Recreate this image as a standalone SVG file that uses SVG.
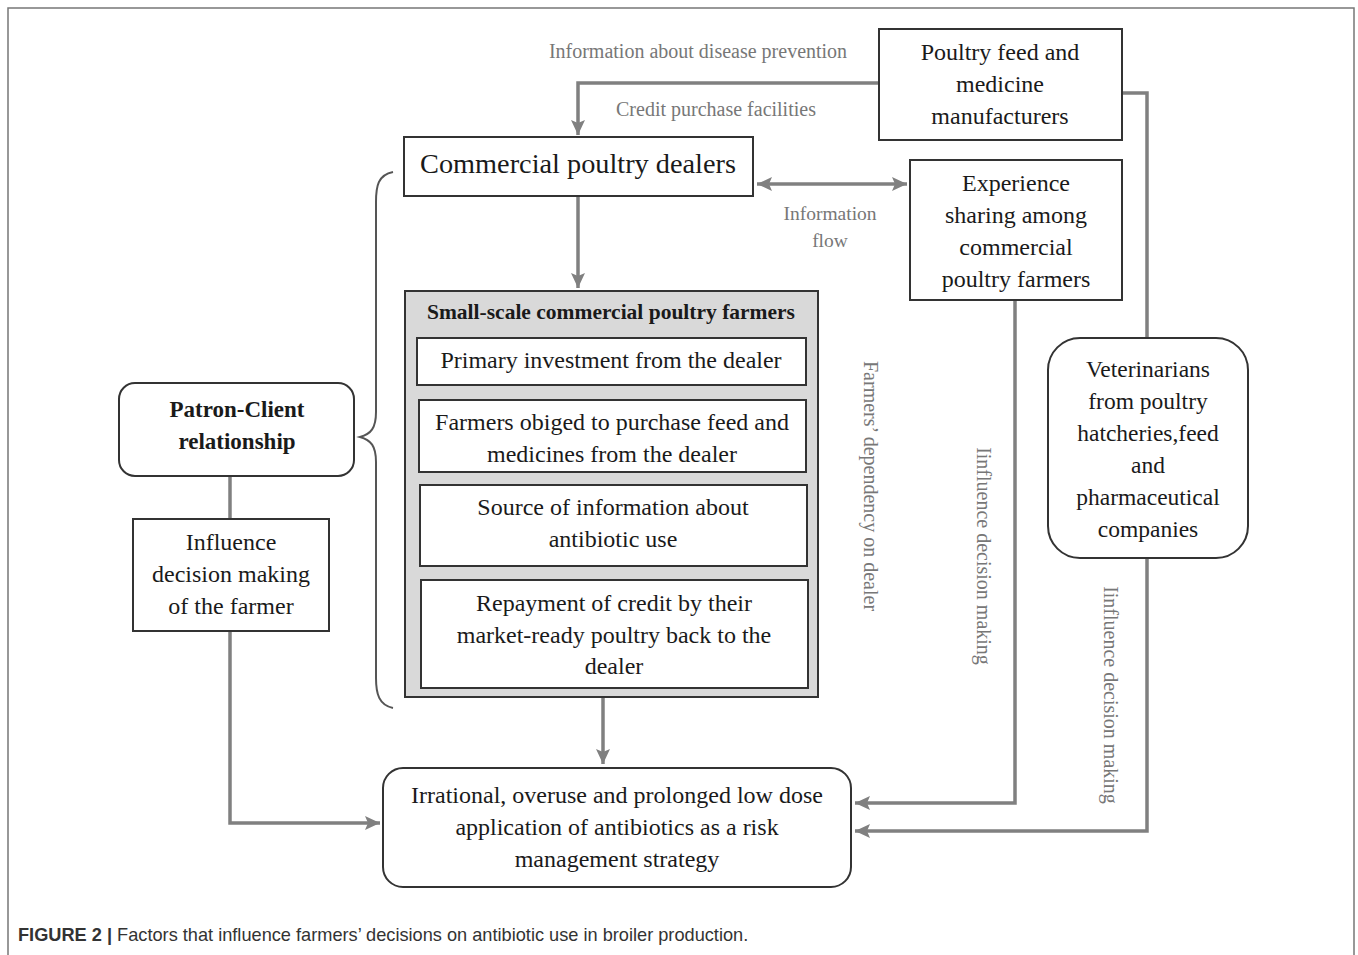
<svg xmlns="http://www.w3.org/2000/svg" width="1358" height="955" viewBox="0 0 1358 955">
<style>
  .box{fill:#fff;stroke:#333;stroke-width:2}
  .gray{fill:#d9d9d9;stroke:#333;stroke-width:2}
  .t{font-family:"Liberation Serif","Times New Roman",serif;fill:#1a1a1a;text-anchor:middle}
  .lab{font-family:"Liberation Serif","Times New Roman",serif;fill:#777;text-anchor:middle}
  .con{fill:none;stroke:#808080;stroke-width:3.5}
</style>
<defs>
  <marker id="ah" markerUnits="userSpaceOnUse" markerWidth="16" markerHeight="14" refX="15" refY="7" orient="auto-start-reverse">
    <path d="M0,0 L15,7 L0,14 L3,7 Z" fill="#808080"/>
  </marker>
</defs>
<rect x="0" y="0" width="1358" height="955" fill="#fff"/>
<path d="M8,960 V8 H1354 V960" fill="none" stroke="#777" stroke-width="1.5"/>

<g id="connectors">
  <path class="con" d="M879,83 H578 V135" marker-end="url(#ah)"/>
  <path class="con" d="M578,197 V288" marker-end="url(#ah)"/>
  <path class="con" d="M757,184 H907" marker-start="url(#ah)" marker-end="url(#ah)"/>
  <path class="con" d="M603,698 V764" marker-end="url(#ah)"/>
  <path class="con" d="M230,477 V519"/>
  <path class="con" d="M230,632 V823 H380" marker-end="url(#ah)"/>
  <path class="con" d="M1015,301 V803 H855" marker-end="url(#ah)"/>
  <path class="con" d="M1123,93 H1147 V338"/>
  <path class="con" d="M1147,558 V831 H855" marker-end="url(#ah)"/>
  <path d="M393,172 C378,175 376,186 376,202 L376,412 C376,428 371,434 360,437 C371,440 376,446 376,462 L376,678 C376,694 379,705 393,708" fill="none" stroke="#555" stroke-width="2"/>
</g>

<g id="labels">
  <text class="lab" x="698" y="58" font-size="20">Information about disease prevention</text>
  <text class="lab" x="716" y="116" font-size="20">Credit purchase facilities</text>
  <text class="lab" x="830" y="220" font-size="19.5">Information</text>
  <text class="lab" x="830" y="247" font-size="19.5">flow</text>
  <text class="lab" font-size="20" transform="translate(864,486) rotate(90)">Farmers’ dependency on dealer</text>
  <text class="lab" font-size="20" transform="translate(977,556) rotate(90)">Iinfluence decision making</text>
  <text class="lab" font-size="20" transform="translate(1104,695) rotate(90)">Iinfluence decision making</text>
</g>

<g id="feed">
  <rect class="box" x="879" y="29" width="243" height="111"/>
  <text class="t" font-size="24"><tspan x="1000" y="60">Poultry feed and</tspan><tspan x="1000" y="92">medicine</tspan><tspan x="1000" y="124">manufacturers</tspan></text>
</g>

<g id="dealers">
  <rect class="box" x="404" y="137" width="349" height="59"/>
  <text class="t" x="578" y="173" font-size="28.3">Commercial poultry dealers</text>
</g>

<g id="experience">
  <rect class="box" x="910" y="160" width="212" height="140"/>
  <text class="t" font-size="24"><tspan x="1016" y="191">Experience</tspan><tspan x="1016" y="223">sharing among</tspan><tspan x="1016" y="255">commercial</tspan><tspan x="1016" y="287">poultry farmers</tspan></text>
</g>

<g id="farmers">
  <rect class="gray" x="405" y="291" width="413" height="406"/>
  <text class="t" x="611" y="319" font-size="21.5" font-weight="bold">Small-scale commercial poultry farmers</text>
</g>
<g id="f1">
  <rect class="box" x="417" y="338" width="389" height="47"/>
  <text class="t" x="611" y="368" font-size="24">Primary investment from the dealer</text>
</g>
<g id="f2">
  <rect class="box" x="419" y="400" width="387" height="72"/>
  <text class="t" font-size="24"><tspan x="612" y="430">Farmers obiged to purchase feed and</tspan><tspan x="612" y="462">medicines from the dealer</tspan></text>
</g>
<g id="f3">
  <rect class="box" x="420" y="485" width="387" height="81"/>
  <text class="t" font-size="24"><tspan x="613" y="515">Source of information about</tspan><tspan x="613" y="547">antibiotic use</tspan></text>
</g>
<g id="f4">
  <rect class="box" x="421" y="580" width="387" height="108"/>
  <text class="t" font-size="24"><tspan x="614" y="611">Repayment of credit by their</tspan><tspan x="614" y="643">market-ready poultry back to the</tspan><tspan x="614" y="674">dealer</tspan></text>
</g>

<g id="patron">
  <rect class="box" x="119" y="383" width="235" height="93" rx="16"/>
  <text class="t" font-size="23" font-weight="bold"><tspan x="237" y="417">Patron-Client</tspan><tspan x="237" y="449">relationship</tspan></text>
</g>

<g id="influence">
  <rect class="box" x="133" y="519" width="196" height="112"/>
  <text class="t" font-size="24"><tspan x="231" y="550">Influence</tspan><tspan x="231" y="582">decision making</tspan><tspan x="231" y="614">of the farmer</tspan></text>
</g>

<g id="vets">
  <rect class="box" x="1048" y="338" width="200" height="220" rx="32"/>
  <text class="t" font-size="23.5"><tspan x="1148" y="377">Veterinarians</tspan><tspan x="1148" y="409">from poultry</tspan><tspan x="1148" y="441">hatcheries,feed</tspan><tspan x="1148" y="473">and</tspan><tspan x="1148" y="505">pharmaceutical</tspan><tspan x="1148" y="537">companies</tspan></text>
</g>

<g id="outcome">
  <rect class="box" x="383" y="768" width="468" height="119" rx="20"/>
  <text class="t" font-size="24"><tspan x="617" y="803">Irrational, overuse and prolonged low dose</tspan><tspan x="617" y="835">application of antibiotics as a risk</tspan><tspan x="617" y="867">management strategy</tspan></text>
</g>

<text x="18" y="941" font-family="'Liberation Sans',Arial,sans-serif" font-size="18.2" fill="#333"><tspan font-weight="bold">FIGURE 2 |</tspan> Factors that influence farmers’ decisions on antibiotic use in broiler production.</text>
</svg>
